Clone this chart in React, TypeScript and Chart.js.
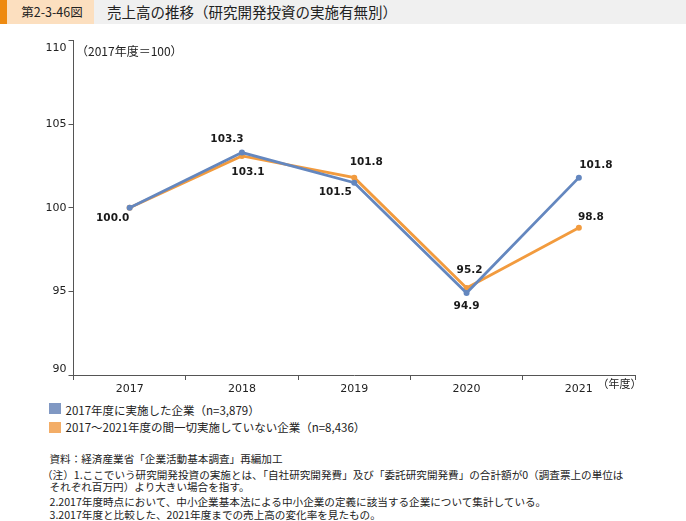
import React, { useEffect, useRef } from "react";
import { Chart, registerables } from "chart.js";

Chart.register(...registerables);

const categories = ["2017", "2018", "2019", "2020", "2021"];
const seriesA = [100.0, 103.3, 101.5, 94.9, 101.8];
const seriesB = [100.0, 103.1, 101.8, 95.2, 98.8];
const seriesALabels = ["100.0", "103.3", "101.5", "94.9", "101.8"];
const seriesBLabels = ["", "103.1", "101.8", "95.2", "98.8"];
const yTicks = [90, 95, 100, 105, 110];
const legendNames = [
  "2017年度に実施した企業（n=3,879）",
  "2017～2021年度の間一切実施していない企業（n=8,436）",
];
const notes = [
  "資料：経済産業省「企業活動基本調査」再編加工",
  "（注）1.ここでいう研究開発投資の実施とは、「自社研究開発費」及び「委託研究開発費」の合計額が0（調査票上の単位は",
  "それぞれ百万円）より大きい場合を指す。",
  "2.2017年度時点において、中小企業基本法による中小企業の定義に該当する企業について集計している。",
  "3.2017年度と比較した、2021年度までの売上高の変化率を見たもの。",
];

const BLUE = "#6487bf";
const ORANGE = "#f29b3e";
const BLUE_LEG = "#8098c3";
const ORANGE_LEG = "#f3ad67";

// label offsets (px) relative to each point: [dx, dy]
const offA: [number, number][] = [[-17, 11], [-15, -13], [-19, 10], [0, 13], [17, -12]];
const offB: [number, number][] = [[0, 0], [6, 16], [12, -15], [3, -18], [12, -11]];

const CJK = '"Noto Sans CJK JP", sans-serif';

export default function App() {
  const ref = useRef<HTMLCanvasElement | null>(null);

  useEffect(() => {
    if (!ref.current) return;
    const labelPlugin = {
      id: "pointLabels",
      afterDatasetsDraw(chart: any) {
        const ctx = chart.ctx;
        ctx.save();
        ctx.font = 'bold 10.5px "DejaVu Sans", sans-serif';
        ctx.fillStyle = "#1a1a1a";
        ctx.textAlign = "center";
        ctx.textBaseline = "middle";
        const sets = [
          { labels: seriesALabels, off: offA },
          { labels: seriesBLabels, off: offB },
        ];
        sets.forEach((s, di) => {
          const meta = chart.getDatasetMeta(di);
          meta.data.forEach((pt: any, i: number) => {
            const t = s.labels[i];
            if (!t) return;
            ctx.fillText(t, pt.x + s.off[i][0], pt.y + s.off[i][1]);
          });
        });
        ctx.restore();
      },
    };
    const yLabelPlugin = {
      id: "yLabels",
      afterDraw(chart: any) {
        const ctx = chart.ctx;
        const ys = chart.scales.y;
        ctx.save();
        ctx.font = '11px "DejaVu Sans", sans-serif';
        ctx.fillStyle = "#222";
        ctx.textAlign = "right";
        ctx.textBaseline = "middle";
        yTicks.forEach((v) => {
          let py = ys.getPixelForValue(v);
          if (v === ys.max) py += 8;
          if (v === ys.min) py -= 6;
          ctx.fillText(String(v), ys.right - 7, py);
        });
        ctx.restore();
      },
    };

    const chart = new Chart(ref.current, {
      type: "line",
      data: {
        labels: categories,
        datasets: [
          {
            label: legendNames[0],
            data: seriesA,
            borderColor: BLUE,
            backgroundColor: BLUE,
            borderWidth: 2.8,
            pointRadius: 3,
            pointBorderWidth: 0,
            pointBackgroundColor: BLUE,
            tension: 0,
          },
          {
            label: legendNames[1],
            data: seriesB,
            borderColor: ORANGE,
            backgroundColor: ORANGE,
            borderWidth: 2.8,
            pointRadius: 3,
            pointBorderWidth: 0,
            pointBackgroundColor: ORANGE,
            tension: 0,
          },
        ],
      },
      options: {
        animation: false,
        responsive: false,
        layout: { padding: { top: 40.5, right: 51, left: 0, bottom: 0 } },
        plugins: {
          legend: { display: false },
          tooltip: { enabled: false },
        },
        scales: {
          x: {
            type: "category",
            offset: true,
            grid: {
              offset: true,
              drawOnChartArea: false,
              drawTicks: true,
              tickLength: 5,
              color: "#555",
            },
            border: { color: "#555", width: 1 },
            ticks: {
              color: "#222",
              font: { family: '"DejaVu Sans", sans-serif', size: 11 },
              padding: 3,
            },
            afterFit: (s: any) => {
              s.height = 25;
            },
          },
          y: {
            min: 90,
            max: 110,
            afterBuildTicks: (s: any) => {
              s.ticks = yTicks.map((v) => ({ value: v }));
            },
            grid: {
              drawOnChartArea: false,
              drawTicks: true,
              tickLength: 5,
              color: "#555",
            },
            border: { color: "#555", width: 1 },
            ticks: { display: false },
            afterFit: (s: any) => {
              s.width = 73.5;
            },
          },
        },
      },
      plugins: [labelPlugin, yLabelPlugin],
    } as any);
    return () => chart.destroy();
  }, []);

  return (
    <div style={{ position: "absolute", left: 0, top: 0, width: 686, height: 521, background: "#fff", overflow: "hidden", fontFamily: CJK }}>
      {/* header */}
      <div style={{ position: "absolute", left: 0, top: 0, width: 686, height: 24, background: "#f0f0f0" }} />
      <div style={{ position: "absolute", left: 0, top: 0, width: 7, height: 24, background: "#ee8a10" }} />
      <div style={{ position: "absolute", left: 7, top: 0, width: 87, height: 24, background: "#fcdfbf" }} />
      <div style={{ position: "absolute", left: 7, top: 0, width: 90, height: 24, lineHeight: "24px", textAlign: "center", fontSize: 12.5, color: "#222", whiteSpace: "nowrap" }}>第2-3-46図</div>
      <div style={{ position: "absolute", left: 107, top: 0, height: 24, lineHeight: "24px", fontSize: 14.5, color: "#222", whiteSpace: "nowrap" }}>売上高の推移（研究開発投資の実施有無別）</div>

      <canvas ref={ref} width={686} height={400} style={{ position: "absolute", left: 0, top: 0, width: 686, height: 400 }} />

      <div style={{ position: "absolute", left: 76, top: 43, fontSize: 12, color: "#222", whiteSpace: "nowrap", lineHeight: "16px" }}>（2017年度＝100）</div>
      <div style={{ position: "absolute", left: 597.5, top: 375, fontSize: 11, color: "#222", whiteSpace: "nowrap", lineHeight: "16px" }}>（年度）</div>

      {/* legend */}
      <div style={{ position: "absolute", left: 49, top: 403, width: 12, height: 11, background: BLUE_LEG }} />
      <div style={{ position: "absolute", left: 65.5, top: 402, fontSize: 11.5, color: "#222", whiteSpace: "nowrap", lineHeight: "16px" }}>{legendNames[0]}</div>
      <div style={{ position: "absolute", left: 49, top: 421.5, width: 12, height: 11, background: ORANGE_LEG }} />
      <div style={{ position: "absolute", left: 65.5, top: 419, fontSize: 11.5, color: "#222", whiteSpace: "nowrap", lineHeight: "16px" }}>{legendNames[1]}</div>

      {/* notes */}
      {notes.map((n, i) => (
        <div key={i} style={{ position: "absolute", left: i === 1 ? 42 : 49.5, top: [450.5, 466.5, 478.5, 493.5, 506.5][i], fontSize: 10.6, color: "#222", whiteSpace: "nowrap", lineHeight: "15px" }}>{n}</div>
      ))}
    </div>
  );
}
